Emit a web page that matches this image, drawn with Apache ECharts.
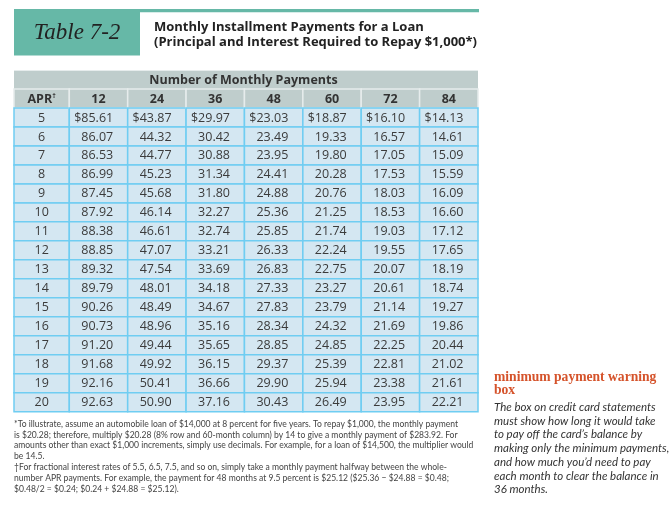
<!DOCTYPE html>
<html>
<head>
<meta charset="utf-8">
<script src="https://cdn.jsdelivr.net/npm/echarts@6/dist/echarts.min.js"></script>
<style>
html,body{margin:0;padding:0;background:#fff;}
#chart{width:672px;height:511px;}
</style>
</head>
<body>
<div id="chart"></div>
<script>
// ---------- data ----------
const aprRates = ['5','6','7','8','9','10','11','12','13','14','15','16','17','18','19','20'];
const terms = ['12','24','36','48','60','72','84'];
const pay12 = [85.61,86.07,86.53,86.99,87.45,87.92,88.38,88.85,89.32,89.79,90.26,90.73,91.20,91.68,92.16,92.63];
const pay24 = [43.87,44.32,44.77,45.23,45.68,46.14,46.61,47.07,47.54,48.01,48.49,48.96,49.44,49.92,50.41,50.90];
const pay36 = [29.97,30.42,30.88,31.34,31.80,32.27,32.74,33.21,33.69,34.18,34.67,35.16,35.65,36.15,36.66,37.16];
const pay48 = [23.03,23.49,23.95,24.41,24.88,25.36,25.85,26.33,26.83,27.33,27.83,28.34,28.85,29.37,29.90,30.43];
const pay60 = [18.87,19.33,19.80,20.28,20.76,21.25,21.74,22.24,22.75,23.27,23.79,24.32,24.85,25.39,25.94,26.49];
const pay72 = [16.10,16.57,17.05,17.53,18.03,18.53,19.03,19.55,20.07,20.61,21.14,21.69,22.25,22.81,23.38,23.95];
const pay84 = [14.13,14.61,15.09,15.59,16.09,16.60,17.12,17.65,18.19,18.74,19.27,19.86,20.44,21.02,21.61,22.21];
const payColumns = [pay12, pay24, pay36, pay48, pay60, pay72, pay84];

const tableLabel = 'Table 7-2';
const titleLines = ['Monthly Installment Payments for a Loan', '(Principal and Interest Required to Repay $1,000*)'];
const spanHeader = 'Number of Monthly Payments';
const aprHeader = 'APR';
const aprMark = '\u2020';
const footLines = [
  '*To illustrate, assume an automobile loan of $14,000 at 8 percent for five years. To repay $1,000, the monthly payment',
  'is $20.28; therefore, multiply $20.28 (8% row and 60-month column) by 14 to give a monthly payment of $283.92. For',
  'amounts other than exact $1,000 increments, simply use decimals. For example, for a loan of $14,500, the multiplier would',
  'be 14.5.',
  '\u2020For fractional interest rates of 5.5, 6.5, 7.5, and so on, simply take a monthly payment halfway between the whole-',
  'number APR payments. For example, the payment for 48 months at 9.5 percent is $25.12 ($25.36 \u2212 $24.88 = $0.48;',
  '$0.48/2 = $0.24; $0.24 + $24.88 = $25.12).'
];
const sideHead = ['minimum payment warning', 'box'];
const sideLines = [
  'The box on credit card statements',
  'must show how long it would take',
  'to pay off the card\u2019s balance by',
  'making only the minimum payments,',
  'and how much you\u2019d need to pay',
  'each month to clear the balance in',
  '36 months.'
];

// ---------- build ----------
const rowCats = ['top', 'hdr'].concat(aprRates);
const NUM_FONT = '"Open Sans"';
const TEAL = '#66b8a7';
const GRAY = '#bfcdcc';
const GRAY_LINE = '#e6ecec';
const CELL = '#d4e7f2';
const BLUE = '#6fcdf2';
const TXT = '#3b3b3b';

function fmt(v, rowIdx) {
  return (rowIdx === 0 ? '$' : '') + v.toFixed(2);
}

// data for the APR column (grid 0)
const aprData = [];
const aprTexts = [];
aprData.push([0, 1]); aprTexts.push({kind: 'hdr', text: '{b|' + aprHeader + '}{s|' + aprMark + '}'});
aprRates.forEach((r, j) => { aprData.push([0, j + 2]); aprTexts.push({kind: 'cell', text: r}); });

// data for payment columns (grid 1)
const payData = [];
const payTexts = [];
terms.forEach((t, i) => {
  payData.push([i, 1]); payTexts.push({kind: 'hdr', text: '{b|' + t + '}'});
  payColumns[i].forEach((v, j) => {
    payData.push([i, j + 2, v]); payTexts.push({kind: 'cell', text: fmt(v, j)});
  });
});

const hdrRich = {
  b: {fontSize: 12.5, fontWeight: 'bold', fontFamily: NUM_FONT, fill: '#333', color: '#333'},
  s: {fontSize: 7, fontWeight: 'bold', fontFamily: NUM_FONT, fill: '#333', color: '#333', verticalAlign: 'top', padding: [0, 0, 6, 0]}
};

function makeRenderer(texts, alignRight) {
  return function (params, api) {
    const info = texts[params.dataIndex];
    const c = api.coord([api.value(0), api.value(1)]);
    const s = api.size([1, 1]);
    const x0 = c[0] - s[0] / 2, y0 = c[1] - s[1] / 2;
    const children = [];
    if (info.kind === 'hdr') {
      children.push({type: 'rect', shape: {x: x0, y: y0, width: s[0], height: s[1]},
        style: {fill: GRAY, stroke: GRAY_LINE, lineWidth: 1.5}});
      children.push({type: 'text', style: {text: info.text, x: c[0], y: c[1] + 0.5,
        align: 'center', verticalAlign: 'middle', textAlign: 'center', textVerticalAlign: 'middle',
        rich: hdrRich, fontSize: 12.5, fontWeight: 'bold', fontFamily: NUM_FONT, fill: '#333'}});
    } else {
      children.push({type: 'rect', shape: {x: x0, y: y0, width: s[0], height: s[1]},
        style: {fill: CELL, stroke: BLUE, lineWidth: 1.5}});
      const tx = alignRight ? x0 + s[0] - 14.5 : c[0];
      const al = alignRight ? 'right' : 'center';
      children.push({type: 'text', style: {text: info.text, x: tx, y: c[1] + 0.5,
        align: al, verticalAlign: 'middle', textAlign: al, textVerticalAlign: 'middle',
        fontSize: 12.5, fontFamily: NUM_FONT, fill: TXT}});
    }
    return {type: 'group', children: children};
  };
}

const graphics = [
  {type: 'rect', shape: {x: 14, y: 9, width: 126, height: 46.5}, style: {fill: TEAL}},
  {type: 'rect', shape: {x: 140, y: 9, width: 339, height: 3.2}, style: {fill: TEAL}},
  {type: 'text', x: 77, y: 33, style: {text: tableLabel, textAlign: 'center', textVerticalAlign: 'middle',
    align: 'center', verticalAlign: 'middle',
    fontSize: 23, fontStyle: 'italic', fontFamily: '"Liberation Serif"', fill: '#222'}},
  {type: 'text', x: 154, y: 27, style: {text: titleLines[0], textVerticalAlign: 'middle', verticalAlign: 'middle',
    fontSize: 13, fontWeight: 'bold', fontFamily: NUM_FONT, fill: '#222'}},
  {type: 'text', x: 154, y: 42.5, style: {text: titleLines[1], textVerticalAlign: 'middle', verticalAlign: 'middle',
    fontSize: 13, fontWeight: 'bold', fontFamily: NUM_FONT, fill: '#222'}},
  {type: 'rect', shape: {x: 14, y: 70, width: 464, height: 19.3}, style: {fill: GRAY}},
  {type: 'rect', shape: {x: 14, y: 70, width: 464, height: 1}, style: {fill: GRAY_LINE}},
  {type: 'text', x: 243.5, y: 80, style: {text: spanHeader, textAlign: 'center', textVerticalAlign: 'middle',
    align: 'center', verticalAlign: 'middle',
    fontSize: 12.5, fontWeight: 'bold', fontFamily: NUM_FONT, fill: '#333'}}
];
const footY = [424, 434.8, 445.6, 456.4, 467.6, 478.6, 489.5];
footLines.forEach((l, i) => {
  graphics.push({type: 'text', x: 14, y: footY[i], style: {text: l, textVerticalAlign: 'middle', verticalAlign: 'middle',
    fontSize: 8.55, fontFamily: 'Lato', fill: '#444'}});
});
[377, 390.5].forEach((y, i) => {
  graphics.push({type: 'text', x: 494, y: y, style: {text: sideHead[i], textVerticalAlign: 'middle', verticalAlign: 'middle',
    fontSize: 13.6, fontWeight: 'bold', fontFamily: '"Liberation Serif"', fill: '#d5532b'}});
});
const sideY = [407, 421, 434.5, 448, 462, 476, 489];
sideLines.forEach((l, i) => {
  graphics.push({type: 'text', x: 494, y: sideY[i], style: {text: l, textVerticalAlign: 'middle', verticalAlign: 'middle',
    fontSize: 11.5, fontStyle: 'italic', fontFamily: 'Lato', fill: '#333'}});
});

const chart = echarts.init(document.getElementById('chart'), null, {renderer: 'canvas'});
const hiddenCat = (data) => ({type: 'category', data: data, show: false, axisLine: {show: false},
  axisTick: {show: false}, axisLabel: {show: false}, splitLine: {show: false}});
chart.setOption({
  animation: false,
  backgroundColor: '#ffffff',
  grid: [
    {left: 14, top: 70, width: 55.3, height: 341.7},
    {left: 69.3, top: 70, width: 408.7, height: 341.7}
  ],
  xAxis: [
    Object.assign(hiddenCat([aprHeader]), {gridIndex: 0}),
    Object.assign(hiddenCat(terms), {gridIndex: 1})
  ],
  yAxis: [
    Object.assign(hiddenCat(rowCats), {gridIndex: 0, inverse: true}),
    Object.assign(hiddenCat(rowCats), {gridIndex: 1, inverse: true})
  ],
  series: [
    {type: 'custom', xAxisIndex: 0, yAxisIndex: 0, data: aprData, renderItem: makeRenderer(aprTexts, false), clip: false},
    {type: 'custom', xAxisIndex: 1, yAxisIndex: 1, data: payData, renderItem: makeRenderer(payTexts, true), clip: false}
  ],
  graphic: graphics
});
</script>
</body>
</html>
